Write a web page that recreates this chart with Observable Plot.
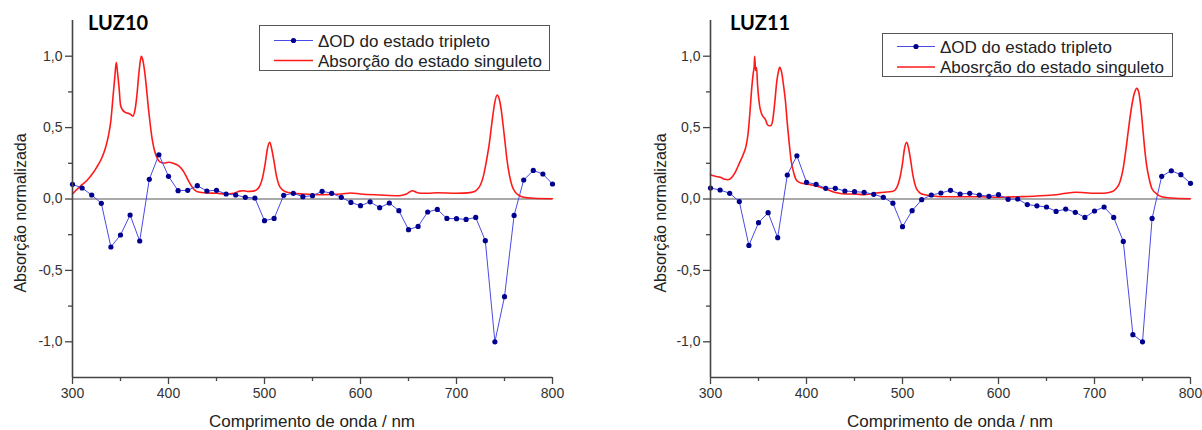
<!DOCTYPE html>
<html>
<head>
<meta charset="utf-8">
<script src="https://cdn.jsdelivr.net/npm/d3@7"></script>
<script src="https://cdn.jsdelivr.net/npm/@observablehq/plot@0.6"></script>
<style>
  html, body { margin: 0; padding: 0; background: #fff; }
  #wrap { position: relative; width: 1202px; height: 430px; overflow: hidden; }
  .panel { position: absolute; top: 0; }
  #overlay { position: absolute; left: 0; top: 0; pointer-events: none; }
</style>
</head>
<body>
<div id="wrap">
  <div class="panel" id="p1" style="left:0px"></div>
  <div class="panel" id="p2" style="left:601px"></div>
  <svg id="overlay" width="1202" height="430"></svg>
</div>
<script>
// ---- data ----
const titles = ["LUZ10", "LUZ11"];
const xLabel = "Comprimento de onda / nm";
const yLabel = "Absorção normalizada";
const legendTriplet = "\u0394OD do estado tripleto";
const legendSinglet10 = "Absorção do estado singuleto";
const legendSinglet11 = "Abosrção do estado singuleto";

const xTicks = [300, 400, 500, 600, 700, 800];
const xMinorTicks = [350, 450, 550, 650, 750];
const yTicks = [-1, -0.5, 0, 0.5, 1];
const yMinorTicks = [-0.75, -0.25, 0.25, 0.75];

const tripletNm = [300,310,320,330,340,350,360,370,380,390,400,410,420,430,440,450,460,470,480,490,500,510,520,530,540,550,560,570,580,590,600,610,620,630,640,650,660,670,680,690,700,710,720,730,740,750,760,770,780,790,800];

const triplet10 = [0.103,0.077,0.028,-0.03,-0.336,-0.252,-0.112,-0.294,0.138,0.31,0.159,0.058,0.061,0.093,0.056,0.061,0.035,0.028,0.012,0.007,-0.152,-0.136,0.026,0.040,0.016,0.023,0.054,0.040,0.012,-0.024,-0.047,-0.02,-0.061,-0.028,-0.082,-0.215,-0.192,-0.091,-0.073,-0.136,-0.138,-0.143,-0.129,-0.292,-1.0,-0.684,-0.115,0.133,0.2,0.175,0.105];

const triplet11 = [0.077,0.063,0.04,-0.018,-0.325,-0.166,-0.096,-0.271,0.168,0.303,0.117,0.103,0.075,0.075,0.056,0.051,0.047,0.033,0.012,-0.029,-0.194,-0.082,-0.005,0.028,0.042,0.061,0.035,0.04,0.028,0.019,0.03,-0.002,0.0,-0.039,-0.048,-0.056,-0.087,-0.07,-0.093,-0.129,-0.084,-0.056,-0.129,-0.297,-0.95,-1.0,-0.136,0.159,0.198,0.17,0.11];

const singletNm10 = [300,305,310,315,320,325,330,334,337,340,342,344,345.6,347,348.5,350,352,355,358,361,363,365,367,369,370.5,371.7,373,375,377,379,381,383,385,388,391,395,400,405,410,415,418,421,424,427,430,440,450,460,468,474,478,482,488,492,495,498,501,503,505.5,507.5,510,512.5,515,518,522,530,540,560,580,590,600,620,640,648,654,658,662,670,680,700,712,718,722,725,728,731,734,737,740,742.4,744.5,746.5,748.5,750.5,752.5,755,758,761,765,770,780,800];
const singlet10 = [0.035,0.07,0.10,0.13,0.17,0.22,0.28,0.35,0.43,0.55,0.70,0.85,0.957,0.88,0.78,0.66,0.625,0.607,0.60,0.59,0.58,0.62,0.72,0.87,0.96,1.0,0.98,0.9,0.78,0.64,0.52,0.42,0.35,0.29,0.26,0.252,0.257,0.25,0.235,0.2,0.165,0.125,0.09,0.065,0.051,0.042,0.04,0.035,0.04,0.055,0.058,0.053,0.055,0.065,0.09,0.15,0.26,0.35,0.397,0.35,0.26,0.16,0.1,0.068,0.05,0.04,0.035,0.03,0.035,0.042,0.035,0.028,0.023,0.035,0.058,0.048,0.04,0.04,0.044,0.04,0.043,0.05,0.07,0.1,0.16,0.26,0.38,0.54,0.68,0.728,0.70,0.63,0.52,0.40,0.28,0.17,0.09,0.05,0.025,0.012,0.005,0.002];

const singletNm11 = [300,305,310,315,318,322,326,330,334,337,339,341,343,344.5,345.5,346,347,348,349,351,353,355,357,359,361,363,365,367,369,371,372,374,376,378,380,382,384,387,390,395,400,410,420,430,440,450,460,470,480,490,494,497,500,502,504.4,506.5,508.5,511,514,517,520,530,540,560,580,600,620,640,660,670,680,690,700,710,718,722,726,730,733,736,739,741.5,744,746,748,750,752,754,757,760,765,770,780,800];
const singlet11 = [0.17,0.159,0.152,0.138,0.135,0.15,0.19,0.25,0.31,0.37,0.45,0.6,0.78,0.88,0.93,1.0,0.9,0.92,0.8,0.66,0.6,0.575,0.56,0.525,0.513,0.515,0.56,0.68,0.82,0.9,0.922,0.89,0.8,0.69,0.53,0.39,0.27,0.175,0.128,0.11,0.105,0.091,0.07,0.045,0.035,0.035,0.03,0.04,0.047,0.054,0.08,0.14,0.25,0.35,0.397,0.35,0.27,0.16,0.08,0.05,0.035,0.023,0.016,0.016,0.016,0.012,0.016,0.021,0.03,0.04,0.047,0.044,0.04,0.04,0.05,0.07,0.11,0.22,0.36,0.52,0.66,0.74,0.775,0.75,0.66,0.52,0.37,0.25,0.14,0.07,0.035,0.016,0.007,0.002];

// ---- styling ----
const BLUE_LINE = "#4a4ae6";
const BLUE_DOT = "#00008f";
const RED = "#ff1a1a";
const AXIS = "#444";
const fmt = d => d.toFixed(1).replace(".", ",");

function panel(tripVals, sNm, sVals, marginLeft, marginRight) {
  const trip = tripletNm.map((x, i) => ({x, y: tripVals[i]}));
  const sing = sNm.map((x, i) => ({x, y: sVals[i]}));
  return Plot.plot({
    width: 601, height: 430,
    marginTop: 20, marginBottom: 53, marginLeft, marginRight,
    style: {fontFamily: "'Liberation Sans', Arial, sans-serif", fontSize: "14px", color: "#333", background: "white", overflow: "visible"},
    x: {domain: [300, 800]},
    y: {domain: [-1.25, 1.25]},
    marks: [
      Plot.ruleY([0], {stroke: "#555", strokeWidth: 1}),
      Plot.line(sing, {x: "x", y: "y", stroke: RED, strokeWidth: 1.6, curve: "monotone-x"}),
      Plot.line(trip, {x: "x", y: "y", stroke: BLUE_LINE, strokeWidth: 1}),
      Plot.dot(trip, {x: "x", y: "y", r: 2.6, fill: BLUE_DOT}),
      Plot.axisX({ticks: xTicks, tickSize: 7, tickPadding: 4, label: null, tickFormat: d => String(d), stroke: AXIS, strokeWidth: 1.3}),
      Plot.axisX({ticks: xMinorTicks, tickSize: 4, label: null, tickFormat: () => "", stroke: AXIS, strokeWidth: 1.3}),
      Plot.axisY({ticks: yTicks, tickSize: 7, tickPadding: 3, label: null, tickFormat: fmt, stroke: AXIS, strokeWidth: 1.3}),
      Plot.axisY({ticks: yMinorTicks, tickSize: 4, label: null, tickFormat: () => "", stroke: AXIS, strokeWidth: 1.3}),
      Plot.ruleX([300], {stroke: AXIS, strokeWidth: 1.6}),
      Plot.ruleY([-1.25], {stroke: AXIS, strokeWidth: 1.6})
    ]
  });
}

document.getElementById("p1").appendChild(panel(triplet10, singletNm10, singlet10, 72, 49));
document.getElementById("p2").appendChild(panel(triplet11, singletNm11, singlet11, 109, 12));

// ---- titles, axis labels, legends (text overlay) ----
const svg = d3.select("#overlay");
const textFont = "'Liberation Sans', Arial, sans-serif";
const panels = [
  {x0: 72, title: titles[0], titleX: 88, legend: {x: 259, y: 25, w: 290, h: 45, row1: 40.5, row2: 60.5, lx1: 274, lx2: 313, tx: 318}, singletLabel: legendSinglet10, ylx: 20},
  {x0: 710, title: titles[1], titleX: 730, legend: {x: 882, y: 33, w: 290, h: 43, row1: 46.5, row2: 67, lx1: 897, lx2: 935, tx: 940}, singletLabel: legendSinglet11, ylx: 660}
];
for (const p of panels) {
  svg.append("text").attr("x", p.titleX).attr("y", 30)
    .attr("font-family", "Lato, 'Open Sans', sans-serif").attr("font-weight", 700)
    .attr("font-size", 20).attr("fill", "#000").text(p.title);
  svg.append("text").attr("x", p.x0 + 240).attr("y", 427).attr("text-anchor", "middle")
    .attr("font-family", textFont).attr("font-size", 17).attr("fill", "#222").text(xLabel);
  svg.append("text").attr("transform", `translate(${p.ylx + 6},213) rotate(-90)`).attr("text-anchor", "middle")
    .attr("font-family", textFont).attr("font-size", 16).attr("fill", "#222").text(yLabel);
  const L = p.legend;
  svg.append("rect").attr("x", L.x + 0.5).attr("y", L.y + 0.5).attr("width", L.w).attr("height", L.h)
    .attr("fill", "white").attr("stroke", "#555").attr("stroke-width", 1);
  svg.append("line").attr("x1", L.lx1).attr("x2", L.lx2).attr("y1", L.row1).attr("y2", L.row1)
    .attr("stroke", BLUE_LINE).attr("stroke-width", 1);
  svg.append("circle").attr("cx", (L.lx1 + L.lx2) / 2).attr("cy", L.row1).attr("r", 2.6).attr("fill", BLUE_DOT);
  svg.append("line").attr("x1", L.lx1).attr("x2", L.lx2).attr("y1", L.row2).attr("y2", L.row2)
    .attr("stroke", RED).attr("stroke-width", 1.6);
  svg.append("text").attr("x", L.tx).attr("y", L.row1).attr("dy", "0.36em")
    .attr("font-family", textFont).attr("font-size", 17).attr("fill", "#222").text(legendTriplet);
  svg.append("text").attr("x", L.tx).attr("y", L.row2).attr("dy", "0.36em")
    .attr("font-family", textFont).attr("font-size", 17).attr("fill", "#222").text(p.singletLabel);
}
</script>
</body>
</html>
